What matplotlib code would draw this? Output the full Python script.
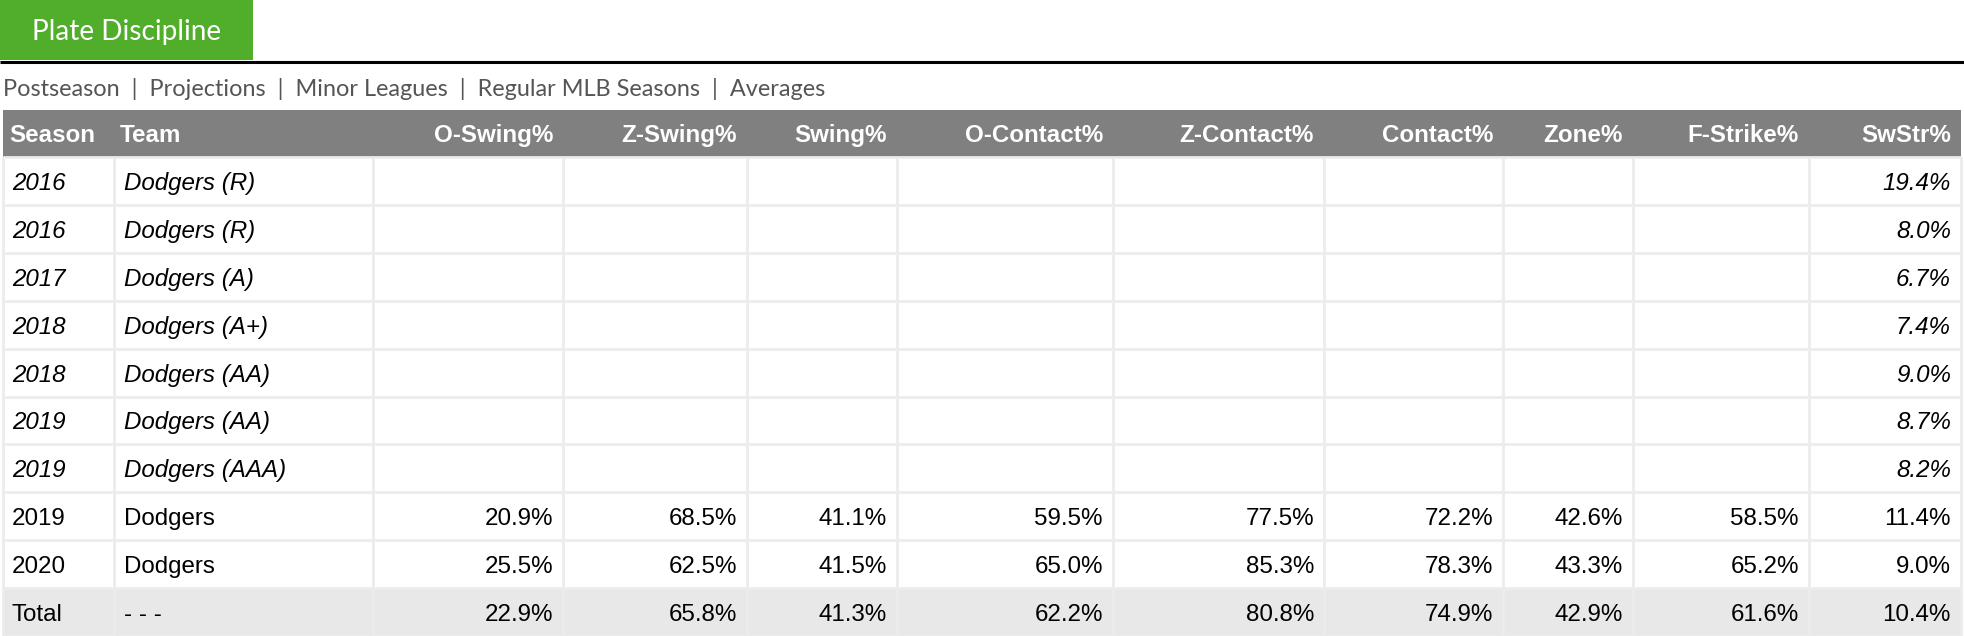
import matplotlib.pyplot as plt

# table contents
headers = ['Season', 'Team', 'O-Swing%', 'Z-Swing%', 'Swing%', 'O-Contact%',
           'Z-Contact%', 'Contact%', 'Zone%', 'F-Strike%', 'SwStr%']
seasons = ['2016', '2016', '2017', '2018', '2018', '2019', '2019', '2019', '2020', 'Total']
teams = ['Dodgers (R)', 'Dodgers (R)', 'Dodgers (A)', 'Dodgers (A+)', 'Dodgers (AA)',
         'Dodgers (AA)', 'Dodgers (AAA)', 'Dodgers', 'Dodgers', '- - -']
o_swing = [None] * 7 + [20.9, 25.5, 22.9]
z_swing = [None] * 7 + [68.5, 62.5, 65.8]
swing = [None] * 7 + [41.1, 41.5, 41.3]
o_contact = [None] * 7 + [59.5, 65.0, 62.2]
z_contact = [None] * 7 + [77.5, 85.3, 80.8]
contact = [None] * 7 + [72.2, 78.3, 74.9]
zone = [None] * 7 + [42.6, 43.3, 42.9]
f_strike = [None] * 7 + [58.5, 65.2, 61.6]
swstr = [19.4, 8.0, 6.7, 7.4, 9.0, 8.7, 8.2, 11.4, 9.0, 10.4]
minors = [True] * 7 + [False, False, False]
nav = ['Postseason', 'Projections', 'Minor Leagues', 'Regular MLB Seasons', 'Averages']

stats = [o_swing, z_swing, swing, o_contact, z_contact, contact, zone, f_strike, swstr]

W, H = 1964, 636
fig = plt.figure(figsize=(W / 100, H / 100), dpi=100)
ax = fig.add_axes([0, 0, 1, 1])
ax.set_xlim(0, W)
ax.set_ylim(H, 0)
ax.axis('off')

# layout in pixels
edges = [3, 114, 373, 563, 747, 897, 1113, 1324, 1503, 1633, 1809, 1961]
head_top, head_bot = 110, 157
row_h = (H - head_bot) / len(seasons)
pad = 10
fs = 17.4
tab_font = 'Lato'
tbl_font = 'Liberation Sans'

# green tab + rule
ax.add_patch(plt.Rectangle((0, 0), 253, 60, color='#50ae2b', lw=0))
ax.text(126.5, 32, 'Plate Discipline', color='white', fontsize=20.2, family=tab_font,
        ha='center', va='center')
ax.plot([0, W], [62, 62], color='black', lw=2.2, solid_capstyle='butt')

ax.text(3, 96, '  |  '.join(nav), color='#555555', fontsize=16.9, family=tab_font,
        ha='left', va='baseline')

# header
ax.add_patch(plt.Rectangle((edges[0], head_top), edges[-1] - edges[0], head_bot - head_top,
                           color='#808080', lw=0))
for j, h in enumerate(headers):
    yb = (head_top + head_bot) / 2 + 8.5
    if j < 2:
        ax.text(edges[j] + 6, yb, h, color='white', fontsize=fs, weight='bold',
                family=tbl_font, ha='left', va='baseline')
    else:
        ax.text(edges[j + 1] - pad, yb, h, color='white', fontsize=fs, weight='bold',
                family=tbl_font, ha='right', va='baseline')

# total row background
ax.add_patch(plt.Rectangle((edges[0], head_bot + row_h * (len(seasons) - 1)),
                           edges[-1] - edges[0], row_h, color='#e8e8e8', lw=0))

# grid lines
for i in range(len(seasons) + 1):
    y = head_bot + i * row_h
    ax.plot([edges[0], edges[-1]], [y, y], color='#ececec', lw=2, solid_capstyle='butt')
for x in edges:
    ax.plot([x, x], [head_bot, H], color='#ececec', lw=2, solid_capstyle='butt')

# cells
for i in range(len(seasons)):
    yb = head_bot + (i + 0.5) * row_h + 9
    style = 'italic' if minors[i] else 'normal'
    ax.text(edges[0] + 9, yb, seasons[i], fontsize=fs, style=style, family=tbl_font,
            color='black', ha='left', va='baseline')
    ax.text(edges[1] + 10, yb, teams[i], fontsize=fs, style=style, family=tbl_font,
            color='black', ha='left', va='baseline')
    for j, col in enumerate(stats):
        v = col[i]
        if v is None:
            continue
        ax.text(edges[j + 3] - pad, yb, f'{v:.1f}%', fontsize=fs, style=style,
                family=tbl_font, color='black', ha='right', va='baseline')

fig.savefig('out.png', dpi=100)
